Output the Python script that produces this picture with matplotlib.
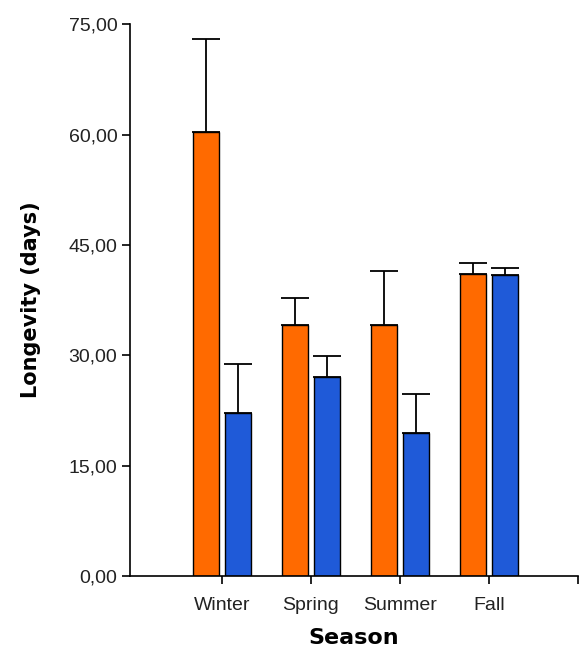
import numpy as np
import matplotlib.pyplot as plt
from matplotlib.ticker import FuncFormatter

seasons = ['Winter', 'Spring', 'Summer', 'Fall']
orange_vals = [60.3, 34.1, 34.1, 41.1]
orange_err = [12.7, 3.7, 7.3, 1.5]
blue_vals = [22.1, 27.0, 19.4, 40.9]
blue_err = [6.7, 2.9, 5.4, 0.9]

x = np.arange(len(seasons))
w = 0.29
off = 0.18

fig = plt.figure(figsize=(5.8, 6.56), dpi=100)
ax = fig.add_axes([0.224, 0.122, 0.7726, 0.841])

ek = dict(ecolor='black', elinewidth=1.3, capsize=10, capthick=1.3)
ax.bar(x - off, orange_vals, w, color='#ff6a00', edgecolor='black', linewidth=1.0,
       yerr=[np.zeros(4), orange_err], error_kw=ek, zorder=2)
ax.bar(x + off, blue_vals, w, color='#1f5ad8', edgecolor='black', linewidth=1.0,
       yerr=[np.zeros(4), blue_err], error_kw=ek, zorder=2)

ax.set_xlim(-1.03, 4.0)
ax.set_ylim(0, 75)
ax.set_yticks([0, 15, 30, 45, 60, 75])
ax.yaxis.set_major_formatter(FuncFormatter(lambda v, p: ('%.2f' % v).replace('.', ',')))
ax.set_xticks([0, 1, 2, 3, 4])
ax.set_xticklabels(seasons + [''])

for s in ['top', 'right']:
    ax.spines[s].set_visible(False)
for s in ['left', 'bottom']:
    ax.spines[s].set_linewidth(1.2)

ax.tick_params(axis='both', direction='out', length=6, width=1.2, labelsize=14,
               colors='black')
ax.tick_params(axis='x', pad=9)
ax.tick_params(axis='y', pad=3)
for lab in ax.get_xticklabels() + ax.get_yticklabels():
    lab.set_fontfamily('Liberation Sans')
    lab.set_color('#222222')

ax.set_xlabel('Season', fontsize=16, fontweight='bold', family='DejaVu Sans', labelpad=10)
ax.set_ylabel('Longevity (days)', fontsize=15, fontweight='bold', family='DejaVu Sans',
              labelpad=20)

fig.savefig('out.png', dpi=100)
